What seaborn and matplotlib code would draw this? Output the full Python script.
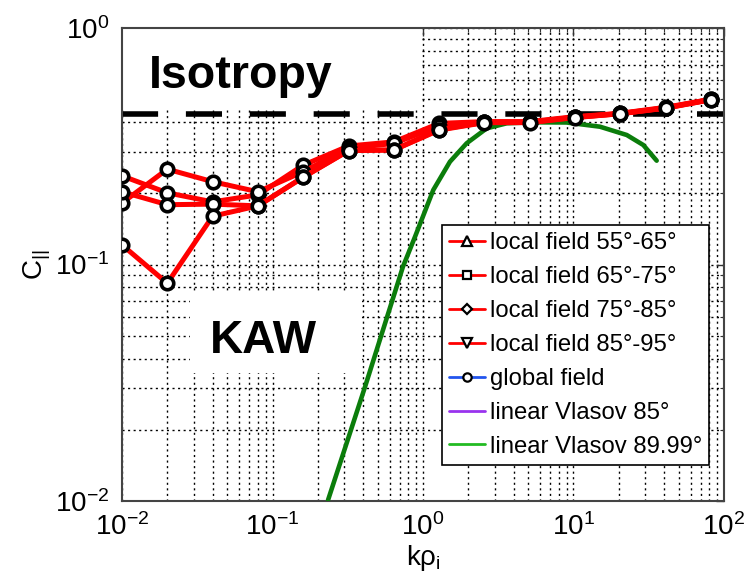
import numpy as np
import pandas as pd
import matplotlib
matplotlib.use("Agg")
import matplotlib.pyplot as plt
import seaborn as sns
from matplotlib.lines import Line2D
from matplotlib.patches import Rectangle
from matplotlib.ticker import NullFormatter, LogLocator

# ---------------- data ----------------
k_rho = [0.01, 0.02, 0.04, 0.08, 0.16, 0.32, 0.64, 1.28, 2.56, 5.12, 10.24, 20.48, 40.96, 81.92]
c_55_65 = [0.237, 0.201, 0.184, 0.197, 0.263, 0.317, 0.330, 0.395, 0.402, 0.402, 0.422, 0.436, 0.462, 0.500]
c_65_75 = [0.182, 0.253, 0.224, 0.203, 0.247, 0.310, 0.325, 0.385, 0.400, 0.400, 0.420, 0.435, 0.460, 0.499]
c_75_85 = [0.203, 0.179, 0.180, 0.177, 0.234, 0.303, 0.305, 0.372, 0.399, 0.399, 0.419, 0.434, 0.459, 0.498]
c_85_95 = [0.121, 0.0833, 0.160, 0.177, 0.234, 0.303, 0.305, 0.370, 0.398, 0.398, 0.418, 0.434, 0.458, 0.497]

vlasov_k = [0.234, 0.412, 0.736, 0.885, 1.17, 1.51, 1.95, 2.65, 3.6, 5.38, 9.0, 15.0, 22.6, 29.1, 35.7]
vlasov_c = [0.0101, 0.0304, 0.0979, 0.131, 0.2065, 0.272, 0.3255, 0.3765, 0.3954, 0.3993, 0.3985, 0.3825, 0.3528, 0.320, 0.2748]

isotropy_level = 0.433

legend_labels = ["local field 55\u00b0-65\u00b0", "local field 65\u00b0-75\u00b0",
                 "local field 75\u00b0-85\u00b0", "local field 85\u00b0-95\u00b0",
                 "global field", "linear Vlasov 85\u00b0", "linear Vlasov 89.99\u00b0"]

# ---------------- style ----------------
sns.set_style("white")
plt.rcParams["font.family"] = ["Liberation Sans", "DejaVu Sans"]
plt.rcParams["mathtext.fontset"] = "custom"
plt.rcParams["mathtext.rm"] = "Liberation Sans"
plt.rcParams["mathtext.it"] = "Liberation Sans:italic"
plt.rcParams["mathtext.bf"] = "Liberation Sans:bold"
plt.rcParams["mathtext.default"] = "regular"
plt.rcParams["text.color"] = "black"
plt.rcParams["axes.labelcolor"] = "black"
plt.rcParams["xtick.color"] = "black"
plt.rcParams["ytick.color"] = "black"

fig = plt.figure(figsize=(7.53, 5.72), dpi=100)
ax = fig.add_axes([122 / 753, 71 / 572, 602 / 753, 473 / 572])

series = {"s1": c_55_65, "s2": c_65_75, "s3": c_75_85, "s4": c_85_95}
df = pd.DataFrame([(k, v, name) for name, vals in series.items() for k, v in zip(k_rho, vals)],
                  columns=["k", "C", "series"])

sns.lineplot(data=df, x="k", y="C", hue="series", palette=["red"] * 4, sort=False,
             estimator=None, lw=3.6, marker="o", markersize=9, markerfacecolor="white",
             markeredgecolor="black", markeredgewidth=2.6, legend=False, ax=ax, zorder=4)

vdf = pd.DataFrame({"k": vlasov_k, "C": vlasov_c})
sns.lineplot(data=vdf, x="k", y="C", color="#0b7d0b", lw=3.3, sort=False, estimator=None,
             legend=False, ax=ax, zorder=3)

ax.axhline(isotropy_level, color="black", lw=4, dashes=(6.5, 5), zorder=2.5)

ax.set_xscale("log")
ax.set_yscale("log")
ax.set_xlim(1e-2, 1e2)
ax.set_ylim(1e-2, 1e0)

ax.xaxis.set_major_locator(LogLocator(base=10, numticks=10))
ax.yaxis.set_major_locator(LogLocator(base=10, numticks=10))
ax.xaxis.set_minor_locator(LogLocator(base=10, subs=np.arange(2, 10), numticks=20))
ax.yaxis.set_minor_locator(LogLocator(base=10, subs=np.arange(2, 10), numticks=20))
ax.xaxis.set_minor_formatter(NullFormatter())
ax.yaxis.set_minor_formatter(NullFormatter())

ax.set_axisbelow(True)
ax.grid(True, which="both", color="black", linestyle=(0, (1.5, 2.5)), lw=1.0)
ax.tick_params(which="both", direction="in", top=True, right=True, color="#333333")
ax.tick_params(which="major", length=6, width=1, labelsize=20, pad=9)
ax.tick_params(which="minor", length=3, width=0.8)
for s in ax.spines.values():
    s.set_color("#444444")
    s.set_linewidth(1.5)

# white label boxes covering grid
ax.add_patch(Rectangle((0, 0.827), 0.498, 0.173, transform=ax.transAxes,
                       facecolor="white", edgecolor="none", zorder=1))
ax.add_patch(Rectangle((0.113, 0.2706), 0.286, 0.169, transform=ax.transAxes,
                       facecolor="white", edgecolor="none", zorder=1))
ax.text(0.197, 0.8725, "Isotropy", transform=ax.transAxes, fontsize=33.5,
        fontweight="bold", ha="center", va="baseline", zorder=5)
ax.text(0.235, 0.313, "KAW", transform=ax.transAxes, fontsize=33,
        fontweight="bold", ha="center", va="baseline", zorder=5)

ax.set_xlabel(r"k$\rho_i$", fontsize=20)
ax.set_ylabel(r"C$_{||}$", fontsize=20)
ax.xaxis.set_label_coords(0.5, -0.088)
ax.yaxis.set_label_coords(-0.115, 0.5)

# legend
mk = dict(mfc="white", mec="black", mew=1.6)
handles = [
    Line2D([], [], color="red", lw=2, marker="^", ms=7, **mk),
    Line2D([], [], color="red", lw=2, marker="s", ms=6, **mk),
    Line2D([], [], color="red", lw=2, marker="D", ms=5, **mk),
    Line2D([], [], color="red", lw=2, marker="v", ms=7, **mk),
    Line2D([], [], color="#2255ee", lw=2, marker="o", ms=6, **mk),
    Line2D([], [], color="#9933ee", lw=2),
    Line2D([], [], color="#22bb22", lw=2),
]
leg = ax.legend(handles, legend_labels, loc="upper left", bbox_to_anchor=(0.5316, 0.5835),
                borderaxespad=0, fontsize=17.2, frameon=True, fancybox=False,
                framealpha=1, edgecolor="black", handlelength=1.5, handletextpad=0.2,
                labelspacing=0.5, borderpad=0.3)
leg.get_frame().set_linewidth(1.2)
leg.set_zorder(6)

fig.savefig("out.png", dpi=100)
